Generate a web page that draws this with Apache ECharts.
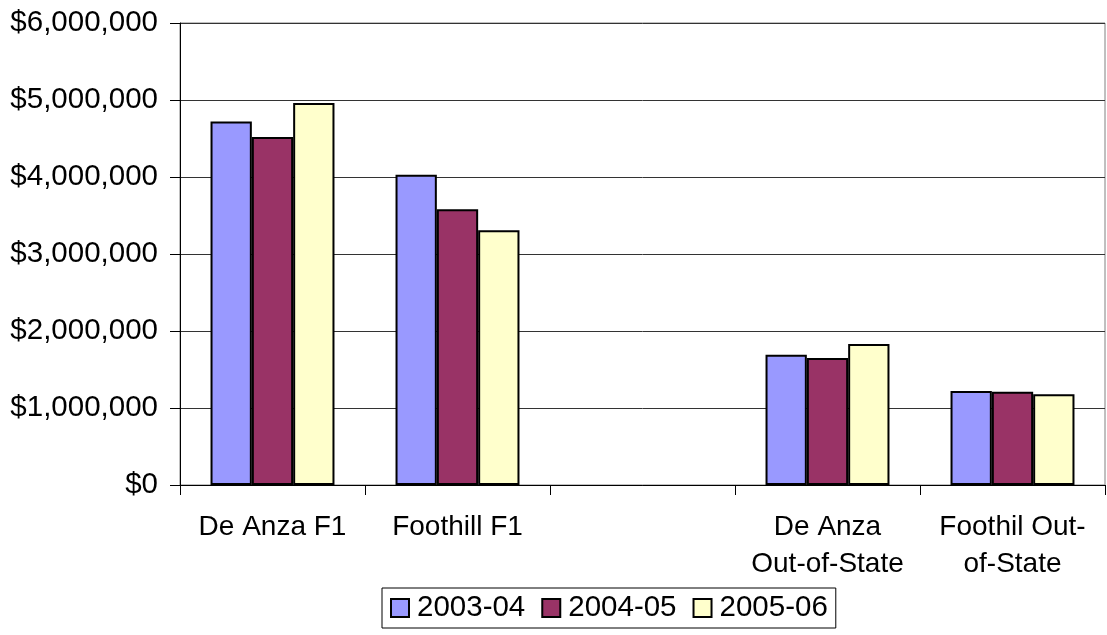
<!DOCTYPE html>
<html>
<head>
<meta charset="utf-8">
<script src="https://cdn.jsdelivr.net/npm/echarts@6/dist/echarts.min.js"></script>
<style>
  html, body { margin: 0; padding: 0; background: #fff; }
  #chart { width: 1107px; height: 635px; }
</style>
</head>
<body>
<div id="chart"></div>
<script>
// categories (third slot is empty in the original chart)
var categories = ['De Anza F1', 'Foothill F1', '', 'De Anza\nOut-of-State', 'Foothil Out-\nof-State'];
var seriesNames = ['2003-04', '2004-05', '2005-06'];
var y2003 = [4720000, 4030000, null, 1690000, 1220000];
var y2004 = [4520000, 3580000, null, 1650000, 1210000];
var y2005 = [4960000, 3310000, null, 1830000, 1180000];
var colors = ['#9999FF', '#993366', '#FFFFCC'];

var chart = echarts.init(document.getElementById('chart'));

function money(v) {
    return '$' + v.toLocaleString('en-US');
}

function bar(name, data, color) {
    return {
        name: name,
        type: 'bar',
        data: data,
        barGap: '0%',
        barCategoryGap: '33%',
        itemStyle: { color: color, borderColor: '#000', borderWidth: 2 }
    };
}

var option = {
    animation: false,
    textStyle: { fontFamily: 'Liberation Sans, Arial, sans-serif' },
    grid: {
        left: 180, right: 2, top: 23, bottom: 150,
        show: true, borderColor: '#808080', borderWidth: 1
    },
    legend: {
        bottom: 7,
        left: 382,
        data: seriesNames,
        icon: 'rect',
        itemWidth: 18, itemHeight: 18, itemGap: 16,
        padding: [5, 8, 5, 8],
        borderColor: '#000', borderWidth: 1,
        itemStyle: { borderColor: '#000', borderWidth: 2 },
        textStyle: { fontSize: 29.5, lineHeight: 30, color: '#000', padding: [0, 0, 0, 3] }
    },
    xAxis: {
        type: 'category',
        data: categories,
        axisLine: { lineStyle: { color: '#000', width: 1 } },
        axisTick: { show: true, length: 10, lineStyle: { color: '#000' } },
        axisLabel: { fontSize: 28, color: '#000', margin: 24, lineHeight: 37, interval: 0 }
    },
    yAxis: {
        type: 'value',
        min: 0, max: 6000000, interval: 1000000,
        axisLine: { show: true, lineStyle: { color: '#000' } },
        axisTick: { show: true, length: 10, lineStyle: { color: '#000' } },
        splitLine: { lineStyle: { color: '#333', width: 1 } },
        axisLabel: { fontSize: 29.5, color: '#000', margin: 22, formatter: money }
    },
    series: [
        bar(seriesNames[0], y2003, colors[0]),
        bar(seriesNames[1], y2004, colors[1]),
        bar(seriesNames[2], y2005, colors[2])
    ]
};

chart.setOption(option);
</script>
</body>
</html>
